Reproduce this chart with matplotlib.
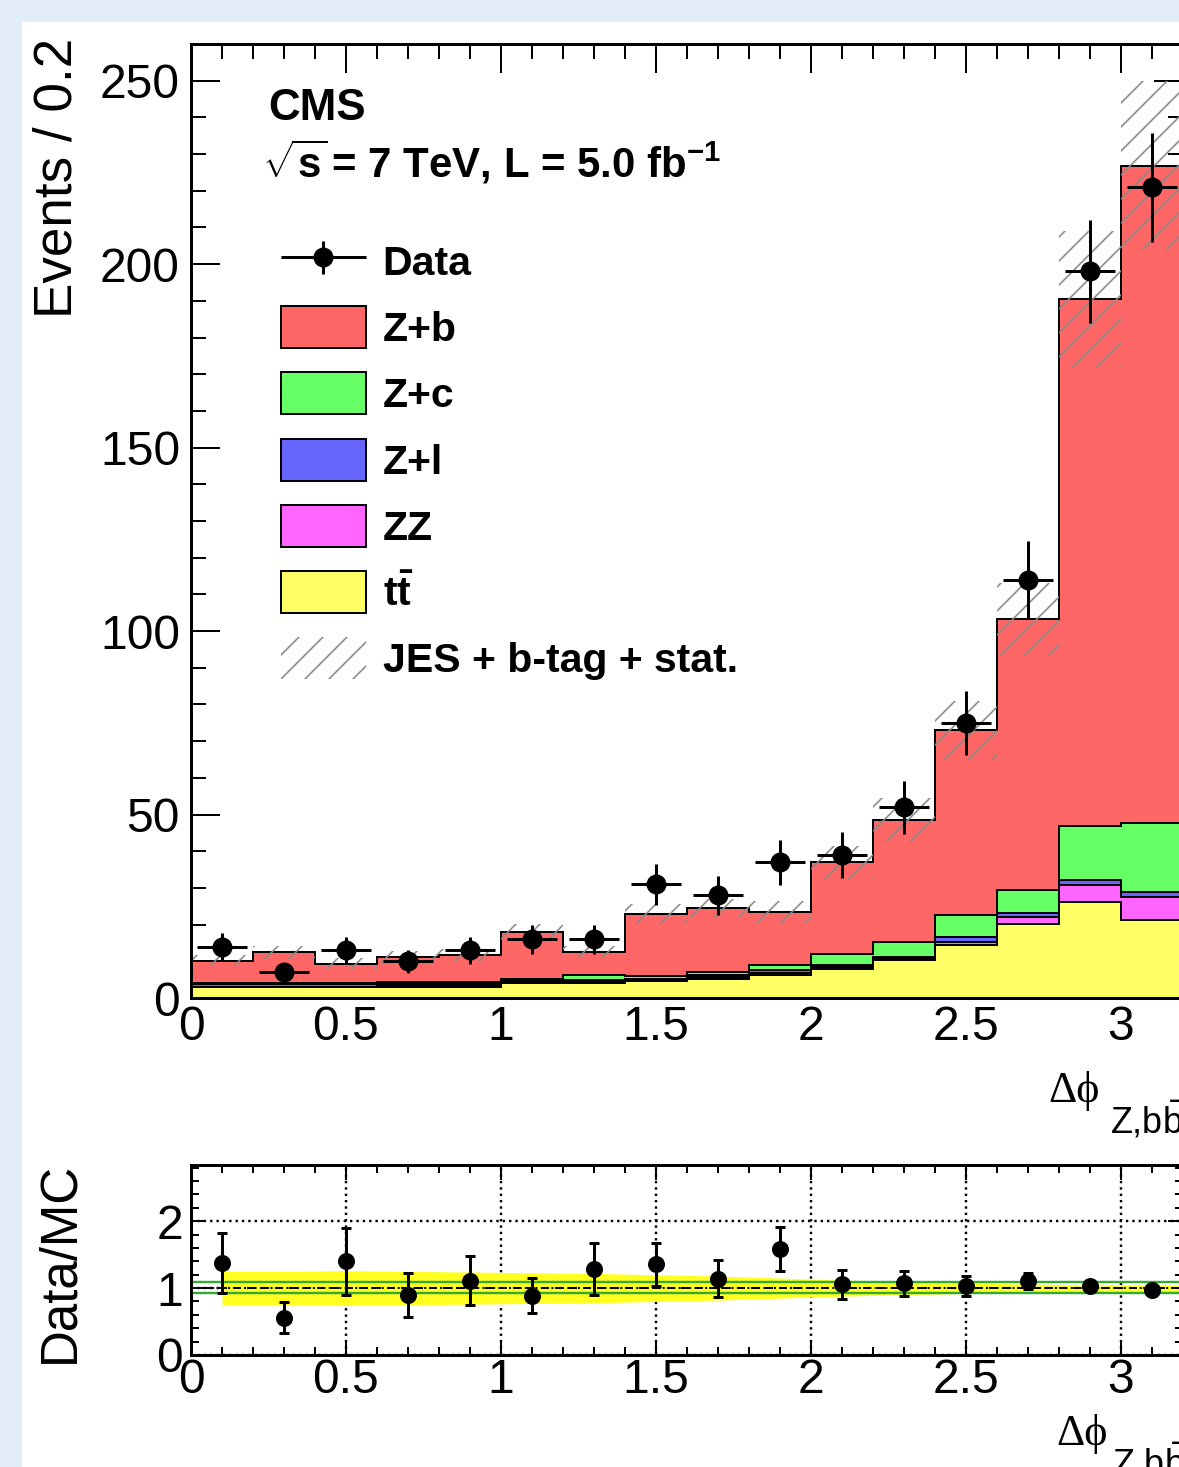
import numpy as np
import matplotlib.pyplot as plt
from matplotlib.patches import Patch, Rectangle
from matplotlib.ticker import MultipleLocator, FuncFormatter
from matplotlib.legend_handler import HandlerErrorbar
from matplotlib.container import ErrorbarContainer

# ==========================================
# data
# ==========================================
edges = np.round(np.arange(0, 3.21, 0.2), 1)
centers = edges[:-1] + 0.1

ttbar = [2.9, 2.9, 2.9, 3.0, 3.0, 4.2, 4.2, 4.5, 5.2, 6.3, 7.8, 10.3, 14.4, 20.2, 26.2, 21.2]
zz = [0.2, 0.2, 0.2, 0.2, 0.2, 0.2, 0.3, 0.3, 0.5, 0.6, 0.7, 0.6, 0.9, 1.9, 4.6, 6.4]
zl = [0.6, 0.6, 0.6, 0.6, 0.6, 0.4, 0.4, 0.4, 0.6, 0.6, 0.5, 0.4, 1.4, 1.0, 1.3, 1.4]
zc = [0.5, 0.5, 0.5, 0.5, 0.6, 0.4, 1.4, 0.8, 0.9, 1.5, 3.0, 4.0, 5.9, 6.3, 14.7, 18.7]
zb = [6.0, 8.3, 5.1, 6.9, 7.3, 12.8, 6.2, 16.9, 17.3, 14.4, 25.0, 33.2, 50.4, 73.8, 143.8, 179.1]
mc_err = [1.6, 1.8, 1.5, 1.6, 1.7, 2.2, 1.7, 2.6, 2.5, 3.0, 4.5, 6.0, 8.0, 10.0, 18.5, 23.0]

data = [14, 7, 13, 10, 13, 16, 16, 31, 28, 37, 39, 52, 75, 114, 198, 221]

ratio_err = [0.45, 0.235, 0.5, 0.33, 0.37, 0.26, 0.39, 0.32, 0.27, 0.33, 0.21, 0.19, 0.15, 0.12, 0.07, 0.06]
band_half = [0.25, 0.25, 0.26, 0.25, 0.24, 0.23, 0.22, 0.20, 0.18, 0.15, 0.12, 0.10, 0.08, 0.06, 0.05, 0.05]
fit_lo, fit_hi = 0.93, 1.085

names = ['tt', 'ZZ', 'Z+l', 'Z+c', 'Z+b']
layers = [ttbar, zz, zl, zc, zb]
colors = ['#ffff66', '#ff66ff', '#6666ff', '#66ff66', '#ff6666']

# ==========================================
# style
# ==========================================
plt.rcParams['font.family'] = ['Liberation Sans', 'DejaVu Sans']
plt.rcParams['mathtext.fontset'] = 'custom'
plt.rcParams['mathtext.rm'] = 'Liberation Sans'
plt.rcParams['mathtext.bf'] = 'Liberation Sans:bold'
plt.rcParams['mathtext.it'] = 'Liberation Sans:italic'
plt.rcParams['hatch.linewidth'] = 0.8

W, H, DPI = 1179, 1467, 144
fig = plt.figure(figsize=(W / DPI, H / DPI), dpi=DPI, facecolor='#e3edf8')
fig.add_artist(Rectangle((22 / W, 0), 1, 1 - 22 / H, transform=fig.transFigure,
                         facecolor='white', edgecolor='none', zorder=-10))

ax = fig.add_axes([191 / W, 1 - 998 / H, 992 / W, 954 / H])
ax2 = fig.add_axes([191 / W, 1 - 1355 / H, 992 / W, 190 / H])

fmt = FuncFormatter(lambda v, p: f'{v:g}')
greek = ['Liberation Serif', 'DejaVu Serif']

# --- main panel: stacked MC ---
bottom = np.zeros(len(centers))
handles = {}
for name, vals, col in zip(names, layers, colors):
    top = bottom + np.array(vals)
    ax.stairs(top, edges, baseline=bottom, fill=True, facecolor=col, edgecolor='none', zorder=2)
    ax.stairs(top, edges, baseline=None, color='black', lw=1.0, zorder=3)
    handles[name] = Patch(facecolor=col, edgecolor='black', lw=1.0)
    bottom = top
mc = bottom

ax.stairs(mc + np.array(mc_err), edges, baseline=mc - np.array(mc_err), fill=True,
          facecolor='none', edgecolor='#8a8a8a', lw=0, hatch='//', zorder=4)

data = np.array(data, dtype=float)
eb = ax.errorbar(centers, data, xerr=0.08, yerr=np.sqrt(data), fmt='o', color='black',
                 ms=9, elinewidth=1.5, capsize=0, zorder=6)

ax.set_xlim(0, 3.2)
ax.set_ylim(0, 260)
ax.xaxis.set_major_locator(MultipleLocator(0.5))
ax.xaxis.set_minor_locator(MultipleLocator(0.1))
ax.yaxis.set_major_locator(MultipleLocator(50))
ax.yaxis.set_minor_locator(MultipleLocator(10))
ax.xaxis.set_major_formatter(fmt)
ax.yaxis.set_major_formatter(fmt)
ax.tick_params(which='both', direction='in', top=True, right=True, width=1, labelsize=24)
ax.tick_params(which='major', length=14.5)
ax.tick_params(which='minor', length=7.5)
ax.tick_params(axis='x', pad=3.5)
ax.tick_params(axis='y', pad=5.5)
for s in ax.spines.values():
    s.set_linewidth(1.5)
    s.set_zorder(10)

leg_handles = [eb] + [handles[n] for n in names[::-1]] + \
    [Patch(facecolor='white', edgecolor='#8a8a8a', lw=0, hatch='//')]
leg_labels = ['Data', 'Z+b', 'Z+c', 'Z+l', 'ZZ', r'$\mathbf{t\bar{t}}$', 'JES + b-tag + stat.']
fig.legend(leg_handles, leg_labels, loc='upper left', bbox_to_anchor=(281 / W, 1 - 240 / H),
           frameon=False, borderpad=0, borderaxespad=0, handlelength=2.07, handleheight=1.2,
           labelspacing=0.57, handletextpad=0.41,
           handler_map={ErrorbarContainer: HandlerErrorbar(xerr_size=1.04, yerr_size=0.4)},
           prop={'family': 'Liberation Sans', 'weight': 'bold', 'size': 20.5})

fig.text(268 / W, 1 - 120 / H, 'CMS', fontsize=22, fontweight='bold', va='baseline')
fig.text(262 / W, 1 - 178 / H, r'$\sqrt{\mathbf{s}}\,$= 7 TeV, L = 5.0 fb$^{\mathbf{-1}}$',
         fontsize=21, fontweight='bold', va='baseline')

fig.text(58 / W, 1 - 38 / H, 'Events / 0.2', rotation=90, ha='center', va='top', fontsize=26.5)
fig.text(1048 / W, 1 - 1102 / H, '\u0394\u03d5', family=greek, fontsize=22, va='baseline')
fig.text(1110 / W, 1 - 1133 / H, r'Z,b$\bar{\mathrm{b}}$', fontsize=18, va='baseline')

# --- ratio panel ---
ratio = data / mc
bx = np.append(centers, edges[-1])
bh = np.append(band_half, band_half[-1])
ax2.fill_between(bx, 1 - bh, 1 + bh, color='#ffff22', lw=0, zorder=2)
ax2.axhline(fit_hi, color='#33aa33', lw=1.2, zorder=3)
ax2.axhline(fit_lo, color='#33aa33', lw=1.2, zorder=3)
ax2.axhline(1.0, color='black', lw=1.0, ls=(0, (4, 3)), zorder=3)
ax2.axhline(1.0, color='black', lw=1.0, ls=':', zorder=3)
ax2.errorbar(centers, ratio, yerr=ratio_err, fmt='o', color='black', ms=7.5,
             elinewidth=1.5, capsize=2.5, capthick=1.5, zorder=6)

ax2.set_xlim(0, 3.2)
ax2.set_ylim(0, 2.84)
ax2.xaxis.set_major_locator(MultipleLocator(0.5))
ax2.xaxis.set_minor_locator(MultipleLocator(0.1))
ax2.yaxis.set_major_locator(MultipleLocator(1))
ax2.yaxis.set_minor_locator(MultipleLocator(0.2))
ax2.xaxis.set_major_formatter(fmt)
ax2.yaxis.set_major_formatter(fmt)
ax2.grid(True, which='major', ls=':', color='black', lw=1.2)
ax2.set_axisbelow(True)
ax2.tick_params(which='both', direction='in', top=True, right=True, width=1, labelsize=24)
ax2.tick_params(which='major', length=7.5)
ax2.tick_params(which='minor', length=4)
ax2.tick_params(axis='x', pad=1.5)
ax2.tick_params(axis='y', pad=4)
for s in ax2.spines.values():
    s.set_linewidth(1.5)
    s.set_zorder(10)

fig.text(60 / W, 1 - 1162 / H, 'Data/MC', rotation=90, ha='center', va='top', fontsize=25.5)
fig.text(1056 / W, 1 - 1445 / H, '\u0394\u03d5', family=greek, fontsize=22, va='baseline')
fig.text(1112 / W, 1 - 1476 / H, r'Z,b$\bar{\mathrm{b}}$', fontsize=18, va='baseline')

fig.savefig('out.png', dpi=DPI, facecolor=fig.get_facecolor())
